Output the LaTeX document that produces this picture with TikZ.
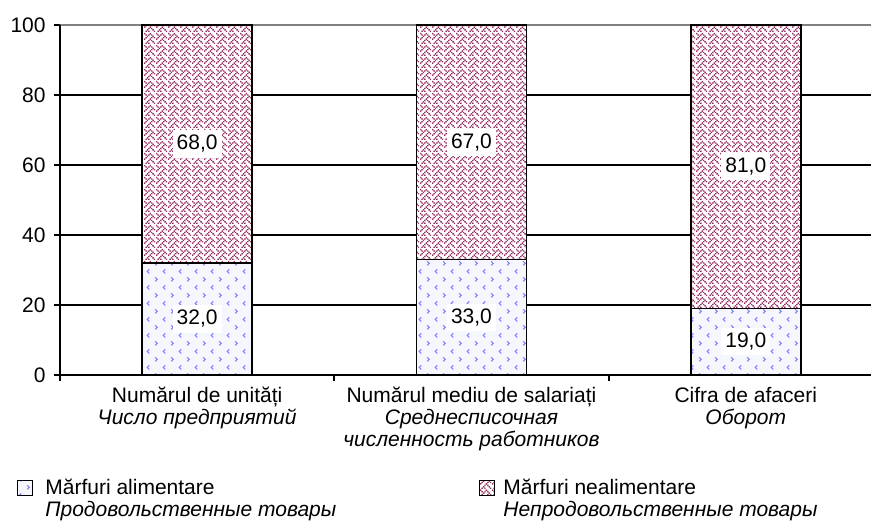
\documentclass[tikz,border=0pt]{standalone}
\usepackage{fontspec}
\setmainfont{Liberation Sans}
\usetikzlibrary{patterns,positioning}
\definecolor{plum}{RGB}{153,51,102}
\definecolor{lilac}{RGB}{125,125,255}
\definecolor{paper}{RGB}{246,246,255}
\definecolor{gridgray}{RGB}{128,128,128}
% Patterns
\newcommand{\px}[2]{\pgfpathrectangle{\pgfqpoint{#1pt}{#2pt}}{\pgfqpoint{0.75pt}{0.75pt}}}
\pgfdeclarepatternformonly{weave}{\pgfpointorigin}{\pgfqpoint{6pt}{6pt}}{\pgfqpoint{6pt}{6pt}}{%
  \px{0}{5.25}\px{3}{5.25}
  \px{0.75}{4.5}\px{2.25}{4.5}\px{3.75}{4.5}
  \px{1.5}{3.75}\px{4.5}{3.75}
  \px{0.75}{3}\px{3.75}{3}\px{5.25}{3}
  \px{0}{2.25}\px{3}{2.25}
  \px{2.25}{1.5}\px{3.75}{1.5}
  \px{1.5}{0.75}\px{4.5}{0.75}
  \px{0.75}{0}\px{2.25}{0}\px{5.25}{0}
  \pgfusepath{fill}}
\pgfdeclarepatternformonly{chevrons}{\pgfqpoint{-1pt}{-1pt}}{\pgfqpoint{9pt}{9pt}}{\pgfqpoint{8pt}{8pt}}{%
  \pgfsetlinewidth{0.5pt}
  \pgfpathmoveto{\pgfqpoint{2.6pt}{7.3pt}}\pgfpathlineto{\pgfqpoint{1.6pt}{6.3pt}}\pgfpathlineto{\pgfqpoint{2.6pt}{5.3pt}}
  \pgfpathmoveto{\pgfqpoint{5.6pt}{3.3pt}}\pgfpathlineto{\pgfqpoint{6.6pt}{2.3pt}}\pgfpathlineto{\pgfqpoint{5.6pt}{1.3pt}}
  \pgfusepath{stroke}}
\tikzset{
  txt/.style={inner sep=0pt, font=\fontsize{10.5}{11}\selectfont},
  bar/.style={draw=black, line width=0.9pt},
  food/.style={bar, preaction={fill=paper}, pattern=chevrons, pattern color=lilac},
  nonfood/.style={bar, preaction={fill=white}, pattern=weave, pattern color=plum},
  val/.style={txt, fill=white, inner xsep=2pt, inner ysep=2.5pt},
  catlbl/.style={txt, anchor=base},
}

\begin{document}
\begin{tikzpicture}[x=0.5pt,y=0.5pt]
    \useasboundingbox (0,0) rectangle (871,524);
    \begin{scope}[shift={(60,149)},y=1.75pt]
    % Grid
    \foreach \v in {20,40,...,80}
      \draw[line width=0.9pt] (0,\v) -- (811,\v);
    \draw[line width=0.9pt, gridgray] (0,100) -- (811,100);
    % Axes
    \draw[line width=0.9pt] (0,0) -- (0,100);
    \draw[line width=0.9pt] (0,0) -- (811,0);
    \foreach \v in {0,20,...,100} {
      \draw[line width=0.9pt] (0,\v) -- ++(-3pt,0);
      \node[txt, anchor=east] (y\v) at (-14,\v) {\v};
    }
    \foreach \x in {0,274.3,548.6}
      \draw[line width=0.9pt] (\x,0) -- ++(0,-3pt);
    % Bars
    \foreach \i/\x/\a/\b in {1/137.15/32/68,2/411.45/33/67,3/685.75/19/81} {
      \draw[food] (\x-55,0) rectangle (\x+55,\a);
      \draw[nonfood] (\x-55,\a) rectangle (\x+55,100);
      \node[val] (lo\i) at (\x,\a/2) {\a,0};
      \node[val] (hi\i) at (\x,{(100+\a)/2}) {\b,0};
    }
    \end{scope}
    % Labels
    \node[catlbl] (cat1) at (197.15,121) {Numărul de unități};
    \node[catlbl] (cat1ru) at (197.15,99) {\textit{Число предприятий}};
    \node[catlbl] (cat2) at (471.45,121) {Numărul mediu de salariați};
    \node[catlbl] (cat2ru) at (471.45,99) {\textit{Среднесписочная}};
    \node[catlbl] (cat2rub) at (471.45,77) {\textit{численность работников}};
    \node[catlbl] (cat3) at (745.75,121) {Cifra de afaceri};
    \node[catlbl] (cat3ru) at (745.75,99) {\textit{Оборот}};
    % Legend
    \draw[food, line width=0.8pt] (17.5,28.5) rectangle (32.5,43.5);
    \node[txt, anchor=base west] (key1) at (45,30) {Mărfuri alimentare};
    \node[txt, anchor=base west] (key1ru) at (45,8) {\textit{Продовольственные товары}};
    \draw[nonfood, line width=0.8pt] (479.5,28.5) rectangle (494.5,43.5);
    \node[txt, anchor=base west] (key2) at (503,30) {Mărfuri nealimentare};
    \node[txt, anchor=base west] (key2ru) at (503,8) {\textit{Непродовольственные товары}};
\end{tikzpicture}
\end{document}
